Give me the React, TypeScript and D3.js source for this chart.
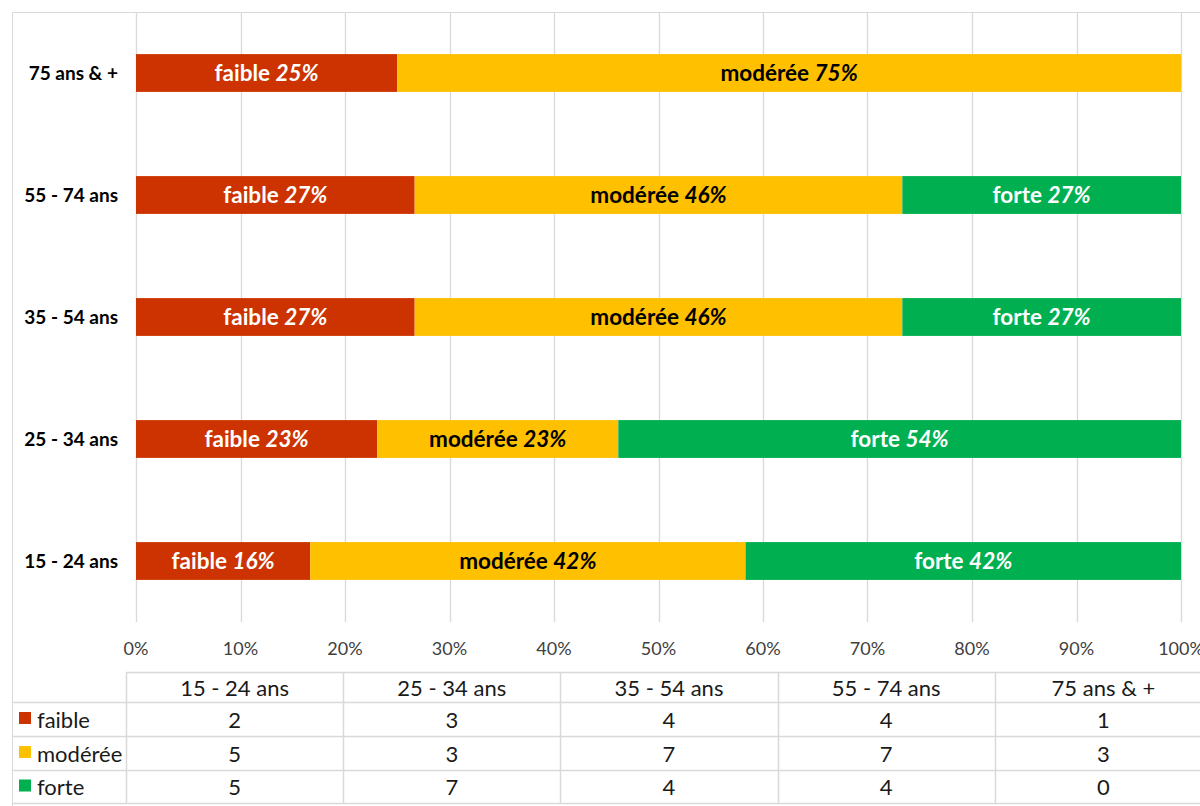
import React, { useEffect, useRef } from 'react';
import * as d3 from 'd3';

const categories = ['15 - 24 ans', '25 - 34 ans', '35 - 54 ans', '55 - 74 ans', '75 ans & +'];
const seriesNames = ['faible', 'modérée', 'forte'];
const faible = [2, 3, 4, 4, 1];
const moderee = [5, 3, 7, 7, 3];
const forte = [5, 7, 4, 4, 0];
// labels as shown on the bars
const faibleLabels = ['16%', '23%', '27%', '27%', '25%'];
const modereeLabels = ['42%', '23%', '46%', '46%', '75%'];
const forteLabels = ['42%', '54%', '27%', '27%', ''];
const xTicks = [0, 0.1, 0.2, 0.3, 0.4, 0.5, 0.6, 0.7, 0.8, 0.9, 1];

const colors = ['#CC3300', '#FFC000', '#00B050'];
const textColors = ['#fff', '#000', '#fff'];
const FONT = 'Lato, "Liberation Sans", sans-serif';

export default function App() {
  const svgRef = useRef<SVGSVGElement>(null);

  useEffect(() => {
    const width = 1200;
    const height = 806;
    const svg = d3.select(svgRef.current).attr('width', width).attr('height', height);
    svg.selectAll('*').remove();

    const values = [faible, moderee, forte];
    const labels = [faibleLabels, modereeLabels, forteLabels];
    const rows = categories.map((c, i) => {
      const r: any = { cat: c };
      seriesNames.forEach((s, j) => (r[s] = values[j][i]));
      return r;
    });
    const stack = d3.stack<any>().keys(seriesNames).offset(d3.stackOffsetExpand);
    const stacked = stack(rows);

    const plot = { left: 136, right: 1181, top: 12, bottom: 622 };
    const x = d3.scaleLinear().domain([0, 1]).range([plot.left, plot.right]);
    const y = d3.scaleBand()
      .domain(categories.slice().reverse())
      .range([plot.top, plot.bottom])
      .paddingInner(0.69)
      .paddingOuter(0.345);

    svg.append('rect').attr('width', width).attr('height', height).attr('fill', '#fff');

    // chart border
    svg.append('path')
      .attr('d', `M12.5,${height} V12.5 H${width}`)
      .attr('fill', 'none')
      .attr('stroke', '#d9d9d9');

    // gridlines
    svg.append('g').selectAll('line')
      .data(xTicks)
      .enter()
      .append('line')
      .attr('x1', d => Math.round(x(d)) + 0.5)
      .attr('x2', d => Math.round(x(d)) + 0.5)
      .attr('y1', plot.top)
      .attr('y2', plot.bottom)
      .attr('stroke', '#d9d9d9')
      .attr('stroke-width', 1.3);

    // bars
    stacked.forEach((layer, j) => {
      const g = svg.append('g');
      g.selectAll('rect')
        .data(layer)
        .enter()
        .append('rect')
        .attr('x', d => x(d[0]))
        .attr('y', d => y(d.data.cat)!)
        .attr('width', d => x(d[1]) - x(d[0]))
        .attr('height', y.bandwidth())
        .attr('fill', colors[j]);

      const t = g.selectAll('text')
        .data(layer.filter((d, i) => d[1] - d[0] > 0))
        .enter()
        .append('text')
        .attr('x', d => (x(d[0]) + x(d[1])) / 2)
        .attr('y', d => y(d.data.cat)! + y.bandwidth() / 2)
        .attr('dy', '0.36em')
        .attr('text-anchor', 'middle')
        .style('font-family', FONT)
        .style('font-size', '22.5px')
        .style('font-weight', 'bold')
        .style('fill', textColors[j]);
      t.append('tspan').text(seriesNames[j] + ' ');
      t.append('tspan')
        .style('font-style', 'italic')
        .text(d => labels[j][categories.indexOf(d.data.cat)]);
    });

    // category labels
    svg.append('g').selectAll('text')
      .data(categories)
      .enter()
      .append('text')
      .attr('x', 118)
      .attr('y', d => y(d)! + y.bandwidth() / 2)
      .attr('dy', '0.36em')
      .attr('text-anchor', 'end')
      .style('font-family', FONT)
      .style('font-size', '19px')
      .style('font-weight', 'bold')
      .style('fill', '#000')
      .text(d => d);

    // x tick labels
    svg.append('g').selectAll('text')
      .data(xTicks)
      .enter()
      .append('text')
      .attr('x', d => x(d))
      .attr('y', 649)
      .attr('dy', '0.36em')
      .attr('text-anchor', 'middle')
      .style('font-family', FONT)
      .style('font-size', '18px')
      .style('fill', '#404040')
      .text(d => d3.format('.0%')(d));

    // data table
    const tableLeft = 126;
    const colW = 217.2;
    const rowYs = [672, 702, 736, 770, 803];
    const tg = svg.append('g');
    const lineColor = '#d9d9d9';
    tg.append('line').attr('x1', tableLeft).attr('x2', width).attr('y1', rowYs[0] + 0.5).attr('y2', rowYs[0] + 0.5)
      .attr('stroke', lineColor).attr('stroke-width', 1.5);
    rowYs.slice(1).forEach(ry => {
      tg.append('line').attr('x1', 12).attr('x2', width).attr('y1', ry + 0.5).attr('y2', ry + 0.5)
        .attr('stroke', lineColor).attr('stroke-width', 1.5);
    });
    d3.range(0, categories.length + 1).forEach(i => {
      const cx = Math.round(tableLeft + i * colW) + 0.5;
      tg.append('line').attr('x1', cx).attr('x2', cx).attr('y1', rowYs[0]).attr('y2', rowYs[4])
        .attr('stroke', lineColor).attr('stroke-width', 1.5);
    });
    const tableFont = '22px';
    categories.forEach((c, i) => {
      const cx = tableLeft + (i + 0.5) * colW;
      tg.append('text')
        .attr('x', cx).attr('y', (rowYs[0] + rowYs[1]) / 2 + 1).attr('dy', '0.36em')
        .attr('text-anchor', 'middle')
        .style('font-family', FONT).style('font-size', tableFont).style('fill', '#1a1a1a')
        .text(c);
      values.forEach((vals, j) => {
        tg.append('text')
          .attr('x', cx).attr('y', (rowYs[j + 1] + rowYs[j + 2]) / 2 + 1).attr('dy', '0.36em')
          .attr('text-anchor', 'middle')
          .style('font-family', FONT).style('font-size', tableFont).style('fill', '#1a1a1a')
          .text(vals[i]);
      });
    });
    seriesNames.forEach((s, j) => {
      const cy = (rowYs[j + 1] + rowYs[j + 2]) / 2;
      tg.append('rect').attr('x', 19).attr('y', cy - 7).attr('width', 12).attr('height', 12).attr('fill', colors[j]);
      tg.append('text')
        .attr('x', 37).attr('y', cy + 1).attr('dy', '0.36em')
        .style('font-family', FONT).style('font-size', tableFont).style('fill', '#1a1a1a')
        .text(s);
    });
  }, []);

  return (
    <svg ref={svgRef} style={{ position: 'absolute', left: 0, top: 0, display: 'block' }} />
  );
}
